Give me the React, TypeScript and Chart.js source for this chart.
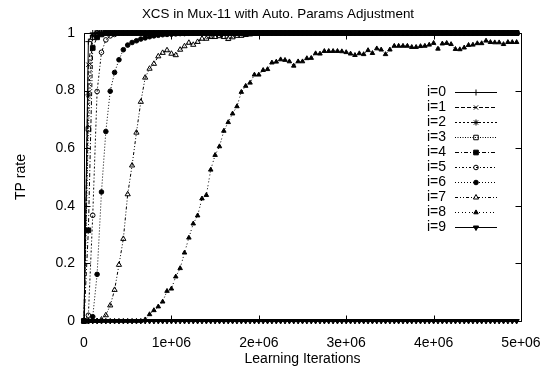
import React, { useEffect, useRef } from 'react';
import { Chart, registerables } from 'chart.js';
import { drawPoint } from 'chart.js/helpers';

Chart.register(...registerables);

const TITLE = 'XCS in Mux-11 with Auto. Params Adjustment';
const X_LABEL = 'Learning Iterations';
const Y_LABEL = 'TP rate';
const X_TICKS = [0, 1000000, 2000000, 3000000, 4000000, 5000000];
const X_TICK_LABELS = ['0', '1e+06', '2e+06', '3e+06', '4e+06', '5e+06'];
const Y_TICKS = [0, 0.2, 0.4, 0.6, 0.8, 1];
const Y_TICK_LABELS = ['0', '0.2', '0.4', '0.6', '0.8', '1'];
const SERIES_NAMES = ['i=0', 'i=1', 'i=2', 'i=3', 'i=4', 'i=5', 'i=6', 'i=7', 'i=8', 'i=9'];

const ITERATIONS = [
  0, 50000, 100000, 150000, 200000, 250000, 300000, 350000, 400000, 450000,
  500000, 550000, 600000, 650000, 700000, 750000, 800000, 850000, 900000, 950000,
  1000000, 1050000, 1100000, 1150000, 1200000, 1250000, 1300000, 1350000, 1400000, 1450000,
  1500000, 1550000, 1600000, 1650000, 1700000, 1750000, 1800000, 1850000, 1900000, 1950000,
  2000000, 2050000, 2100000, 2150000, 2200000, 2250000, 2300000, 2350000, 2400000, 2450000,
  2500000, 2550000, 2600000, 2650000, 2700000, 2750000, 2800000, 2850000, 2900000, 2950000,
  3000000, 3050000, 3100000, 3150000, 3200000, 3250000, 3300000, 3350000, 3400000, 3450000,
  3500000, 3550000, 3600000, 3650000, 3700000, 3750000, 3800000, 3850000, 3900000, 3950000,
  4000000, 4050000, 4100000, 4150000, 4200000, 4250000, 4300000, 4350000, 4400000, 4450000,
  4500000, 4550000, 4600000, 4650000, 4700000, 4750000, 4800000, 4850000, 4900000, 4950000,
];

const TP_I0 = [
  0, 0.97, 1, 1, 1, 1, 1, 1, 1, 1,
  1, 1, 1, 1, 1, 1, 1, 1, 1, 1,
  1, 1, 1, 1, 1, 1, 1, 1, 1, 1,
  1, 1, 1, 1, 1, 1, 1, 1, 1, 1,
  1, 1, 1, 1, 1, 1, 1, 1, 1, 1,
  1, 1, 1, 1, 1, 1, 1, 1, 1, 1,
  1, 1, 1, 1, 1, 1, 1, 1, 1, 1,
  1, 1, 1, 1, 1, 1, 1, 1, 1, 1,
  1, 1, 1, 1, 1, 1, 1, 1, 1, 1,
  1, 1, 1, 1, 1, 1, 1, 1, 1, 1,
];
const TP_I1 = [
  0, 0.89, 0.995, 1, 1, 1, 1, 1, 1, 1,
  1, 1, 1, 1, 1, 1, 1, 1, 1, 1,
  1, 1, 1, 1, 1, 1, 1, 1, 1, 1,
  1, 1, 1, 1, 1, 1, 1, 1, 1, 1,
  1, 1, 1, 1, 1, 1, 1, 1, 1, 1,
  1, 1, 1, 1, 1, 1, 1, 1, 1, 1,
  1, 1, 1, 1, 1, 1, 1, 1, 1, 1,
  1, 1, 1, 1, 1, 1, 1, 1, 1, 1,
  1, 1, 1, 1, 1, 1, 1, 1, 1, 1,
  1, 1, 1, 1, 1, 1, 1, 1, 1, 1,
];
const TP_I2 = [
  0, 0.785, 0.99, 1, 1, 1, 1, 1, 1, 1,
  1, 1, 1, 1, 1, 1, 1, 1, 1, 1,
  1, 1, 1, 1, 1, 1, 1, 1, 1, 1,
  1, 1, 1, 1, 1, 1, 1, 1, 1, 1,
  1, 1, 1, 1, 1, 1, 1, 1, 1, 1,
  1, 1, 1, 1, 1, 1, 1, 1, 1, 1,
  1, 1, 1, 1, 1, 1, 1, 1, 1, 1,
  1, 1, 1, 1, 1, 1, 1, 1, 1, 1,
  1, 1, 1, 1, 1, 1, 1, 1, 1, 1,
  1, 1, 1, 1, 1, 1, 1, 1, 1, 1,
];
const TP_I3 = [
  0, 0.667, 0.985, 1, 1, 1, 1, 1, 1, 1,
  1, 1, 1, 1, 1, 1, 1, 1, 1, 1,
  1, 1, 1, 1, 1, 1, 1, 1, 1, 1,
  1, 1, 1, 1, 1, 1, 1, 1, 1, 1,
  1, 1, 1, 1, 1, 1, 1, 1, 1, 1,
  1, 1, 1, 1, 1, 1, 1, 1, 1, 1,
  1, 1, 1, 1, 1, 1, 1, 1, 1, 1,
  1, 1, 1, 1, 1, 1, 1, 1, 1, 1,
  1, 1, 1, 1, 1, 1, 1, 1, 1, 1,
  1, 1, 1, 1, 1, 1, 1, 1, 1, 1,
];
const TP_I4 = [
  0, 0.315, 0.948, 0.985, 0.995, 1, 1, 1, 1, 1,
  1, 1, 1, 1, 1, 1, 1, 1, 1, 1,
  1, 1, 1, 1, 1, 1, 1, 1, 1, 1,
  1, 1, 1, 1, 1, 1, 1, 1, 1, 1,
  1, 1, 1, 1, 1, 1, 1, 1, 1, 1,
  1, 1, 1, 1, 1, 1, 1, 1, 1, 1,
  1, 1, 1, 1, 1, 1, 1, 1, 1, 1,
  1, 1, 1, 1, 1, 1, 1, 1, 1, 1,
  1, 1, 1, 1, 1, 1, 1, 1, 1, 1,
  1, 1, 1, 1, 1, 1, 1, 1, 1, 1,
];
const TP_I5 = [
  0, 0.02, 0.367, 0.797, 0.933, 0.976, 0.99, 0.995, 1, 1,
  1, 1, 1, 1, 1, 1, 1, 1, 1, 1,
  1, 1, 1, 1, 1, 1, 1, 1, 1, 1,
  1, 1, 1, 1, 1, 1, 1, 1, 1, 1,
  1, 1, 1, 1, 1, 1, 1, 1, 1, 1,
  1, 1, 1, 1, 1, 1, 1, 1, 1, 1,
  1, 1, 1, 1, 1, 1, 1, 1, 1, 1,
  1, 1, 1, 1, 1, 1, 1, 1, 1, 1,
  1, 1, 1, 1, 1, 1, 1, 1, 1, 1,
  1, 1, 1, 1, 1, 1, 1, 1, 1, 1,
];
const TP_I6 = [
  0, 0, 0.015, 0.162, 0.448, 0.658, 0.798, 0.863, 0.907, 0.942,
  0.958, 0.967, 0.973, 0.979, 0.983, 0.987, 0.99, 0.992, 0.994, 0.995,
  0.996, 0.997, 0.998, 0.998, 0.999, 1, 1, 1, 1, 1,
  1, 1, 1, 1, 1, 1, 1, 1, 1, 1,
  1, 1, 1, 1, 1, 1, 1, 1, 1, 1,
  1, 1, 1, 1, 1, 1, 1, 1, 1, 1,
  1, 1, 1, 1, 1, 1, 1, 1, 1, 1,
  1, 1, 1, 1, 1, 1, 1, 1, 1, 1,
  1, 1, 1, 1, 1, 1, 1, 1, 1, 1,
  1, 1, 1, 1, 1, 1, 1, 1, 1, 1,
];
const TP_I7 = [
  0, 0, 0, 0, 0.005, 0.02, 0.054, 0.108, 0.195, 0.285,
  0.44, 0.54, 0.654, 0.761, 0.845, 0.876, 0.893, 0.919, 0.931, 0.94,
  0.928, 0.923, 0.942, 0.954, 0.966, 0.959, 0.969, 0.98, 0.98, 0.986,
  0.986, 0.989, 0.986, 0.979, 0.985, 0.99, 0.99, 0.993, 0.995, 0.997,
  1, 1, 1, 1, 1, 1, 1, 1, 1, 1,
  1, 1, 1, 1, 1, 1, 1, 1, 1, 1,
  1, 1, 1, 1, 1, 1, 1, 1, 1, 1,
  1, 1, 1, 1, 1, 1, 1, 1, 1, 1,
  1, 1, 1, 1, 1, 1, 1, 1, 1, 1,
  1, 1, 1, 1, 1, 1, 1, 1, 1, 1,
];
const TP_I8 = [
  0, 0, 0, 0, 0, 0, 0, 0, 0, 0,
  0, 0, 0, 0, 0.005, 0.023, 0.037, 0.05, 0.067, 0.104,
  0.112, 0.154, 0.183, 0.237, 0.289, 0.338, 0.366, 0.425, 0.437, 0.525,
  0.576, 0.606, 0.66, 0.69, 0.72, 0.745, 0.795, 0.816, 0.827, 0.855,
  0.855, 0.871, 0.874, 0.897, 0.9, 0.908, 0.906, 0.901, 0.886, 0.901,
  0.901, 0.912, 0.913, 0.929, 0.928, 0.937, 0.937, 0.937, 0.937, 0.936,
  0.933, 0.928, 0.923, 0.929, 0.926, 0.94, 0.93, 0.946, 0.942, 0.926,
  0.942, 0.955, 0.955, 0.955, 0.955, 0.951, 0.951, 0.954, 0.955, 0.959,
  0.965, 0.945, 0.963, 0.965, 0.961, 0.944, 0.943, 0.949, 0.958, 0.959,
  0.964, 0.964, 0.973, 0.968, 0.967, 0.967, 0.961, 0.968, 0.968, 0.968,
];
const TP_I9 = [
  0, 0, 0, 0, 0, 0, 0, 0, 0, 0,
  0, 0, 0, 0, 0, 0, 0, 0, 0, 0,
  0, 0, 0, 0, 0, 0, 0, 0, 0, 0,
  0, 0, 0, 0, 0, 0, 0, 0, 0, 0,
  0, 0, 0, 0, 0, 0, 0, 0, 0, 0,
  0, 0, 0, 0, 0, 0, 0, 0, 0, 0,
  0, 0, 0, 0, 0, 0, 0, 0, 0, 0,
  0, 0, 0, 0, 0, 0, 0, 0, 0, 0,
  0, 0, 0, 0, 0, 0, 0, 0, 0, 0,
  0, 0, 0, 0, 0, 0, 0, 0, 0, 0,
];

const SERIES_VALUES = [TP_I0, TP_I1, TP_I2, TP_I3, TP_I4, TP_I5, TP_I6, TP_I7, TP_I8, TP_I9];

const FONT = "'Liberation Sans', Arial, Helvetica, sans-serif";
const HOLLOW = 'rgba(255,255,255,0)';
const INK = '#000000';

const STYLES = [
  { dash: [], pointStyle: 'cross', radius: 3, fill: INK, rotation: 0 },
  { dash: [4, 2], pointStyle: 'crossRot', radius: 3, fill: INK, rotation: 0 },
  { dash: [2, 2], pointStyle: 'star', radius: 3, fill: INK, rotation: 0 },
  { dash: [1, 1.5], pointStyle: 'rect', radius: 3.2, fill: HOLLOW, rotation: 0 },
  { dash: [4, 2, 1, 2], pointStyle: 'rect', radius: 3.3, fill: INK, rotation: 0 },
  { dash: [2, 2, 1, 2], pointStyle: 'circle', radius: 2.3, fill: HOLLOW, rotation: 0 },
  { dash: [1, 2], pointStyle: 'circle', radius: 2.3, fill: INK, rotation: 0 },
  { dash: [3, 2, 1, 2, 1, 2], pointStyle: 'triangle', radius: 3, fill: HOLLOW, rotation: 0 },
  { dash: [1, 2, 1, 3], pointStyle: 'triangle', radius: 2.6, fill: INK, rotation: 0 },
  { dash: [], pointStyle: 'triangle', radius: 3, fill: INK, rotation: 180 },
];

const gnuplotPlugin = {
  id: 'gnuplotDecor',
  afterDatasetsDraw(chart: any) {
    const { ctx, chartArea: a, scales } = chart;
    const xs = scales.x;
    const ys = scales.y;
    const L = Math.round(a.left) + 0.5;
    const R = Math.round(a.right) + 0.5;
    const T = Math.round(a.top) + 0.5;
    const B = Math.round(a.bottom) + 0.5;
    ctx.save();
    ctx.setLineDash([]);
    ctx.strokeStyle = INK;
    ctx.lineWidth = 1;
    ctx.beginPath();
    ctx.rect(L, T, R - L, B - T);
    ctx.stroke();
    const tick = 6;
    ctx.beginPath();
    X_TICKS.forEach((v) => {
      const px = Math.round(xs.getPixelForValue(v)) + 0.5;
      ctx.moveTo(px, B);
      ctx.lineTo(px, B - tick);
      ctx.moveTo(px, T);
      ctx.lineTo(px, T + tick);
    });
    Y_TICKS.forEach((v) => {
      const py = Math.round(ys.getPixelForValue(v)) + 0.5;
      ctx.moveTo(L, py);
      ctx.lineTo(L + tick, py);
      ctx.moveTo(R, py);
      ctx.lineTo(R - tick, py);
    });
    ctx.stroke();

    // legend
    ctx.font = `14px ${FONT}`;
    ctx.fillStyle = INK;
    ctx.textAlign = 'right';
    ctx.textBaseline = 'middle';
    chart.data.datasets.forEach((ds: any, i: number) => {
      const y = Math.round(92.3 + i * 14.93) + 0.5;
      ctx.fillStyle = INK;
      ctx.fillText(ds.label, 446, y);
      ctx.save();
      ctx.strokeStyle = INK;
      ctx.lineWidth = 1;
      ctx.setLineDash(ds.borderDash || []);
      ctx.beginPath();
      ctx.moveTo(455, y);
      ctx.lineTo(497, y);
      ctx.stroke();
      ctx.setLineDash([]);
      ctx.fillStyle = ds.pointBackgroundColor;
      ctx.strokeStyle = INK;
      drawPoint(ctx, {
        pointStyle: ds.pointStyle,
        radius: ds.pointRadius,
        rotation: ds.pointRotation || 0,
        borderWidth: 1,
      } as any, 476, y);
      ctx.restore();
    });
    ctx.restore();
  },
  afterDraw(chart: any) {
    const { ctx, chartArea: a } = chart;
    ctx.save();
    ctx.fillStyle = INK;
    ctx.textAlign = 'center';
    ctx.textBaseline = 'alphabetic';
    ctx.font = `13.4px ${FONT}`;
    ctx.fillText(TITLE, 278, 18);
    ctx.font = `14px ${FONT}`;
    ctx.fillText(X_LABEL, (a.left + a.right) / 2, 363);
    ctx.translate(25, (a.top + a.bottom) / 2);
    ctx.rotate(-Math.PI / 2);
    ctx.fillText(Y_LABEL, 0, 0);
    ctx.restore();
  },
};

export default function App() {
  const ref = useRef<HTMLCanvasElement | null>(null);
  useEffect(() => {
    const canvas = ref.current;
    if (!canvas) return;
    const datasets = SERIES_NAMES.map((name, i) => {
      const s = STYLES[i];
      return {
        label: name,
        data: ITERATIONS.map((x, k) => ({ x, y: SERIES_VALUES[i][k] })),
        borderColor: INK,
        borderWidth: 1,
        borderDash: s.dash,
        pointStyle: s.pointStyle,
        pointRadius: s.radius,
        pointRotation: s.rotation,
        pointBackgroundColor: s.fill,
        pointBorderColor: INK,
        pointBorderWidth: 1,
        pointHoverRadius: s.radius,
        fill: false,
        tension: 0,
        clip: false,
      };
    });
    const chart = new Chart(canvas, {
      type: 'line',
      data: { datasets } as any,
      options: {
        animation: false,
        responsive: false,
        devicePixelRatio: 1,
        events: [],
        layout: { padding: { top: 33, right: 39, bottom: 0, left: 0 } },
        plugins: {
          legend: { display: false },
          title: { display: false },
          tooltip: { enabled: false },
        },
        scales: {
          x: {
            type: 'linear',
            min: 0,
            max: 5000000,
            grid: { display: false, drawTicks: false },
            border: { display: false },
            afterFit: (s: any) => { s.height = 51; },
            afterBuildTicks: (s: any) => { s.ticks = X_TICKS.map((v) => ({ value: v })); },
            ticks: {
              color: INK,
              padding: 14,
              maxRotation: 0,
              autoSkip: false,
              font: { family: FONT, size: 14 },
              callback: (v: any) => {
                const idx = X_TICKS.indexOf(Number(v));
                return idx >= 0 ? X_TICK_LABELS[idx] : '';
              },
            },
          },
          y: {
            type: 'linear',
            min: 0,
            max: 1,
            grid: { display: false, drawTicks: false },
            border: { display: false },
            afterFit: (s: any) => { s.width = 84; },
            afterBuildTicks: (s: any) => { s.ticks = Y_TICKS.map((v) => ({ value: v })); },
            ticks: {
              color: INK,
              padding: 9,
              autoSkip: false,
              font: { family: FONT, size: 14 },
              callback: (v: any) => {
                const idx = Y_TICKS.findIndex((t) => Math.abs(t - Number(v)) < 1e-9);
                return idx >= 0 ? Y_TICK_LABELS[idx] : '';
              },
            },
          },
        },
      } as any,
      plugins: [gnuplotPlugin],
    });
    return () => chart.destroy();
  }, []);
  return (
    <div style={{ position: 'fixed', left: 0, top: 0, width: 560, height: 372, background: '#fff' }}>
      <canvas ref={ref} width={560} height={372} style={{ display: 'block' }} />
    </div>
  );
}
